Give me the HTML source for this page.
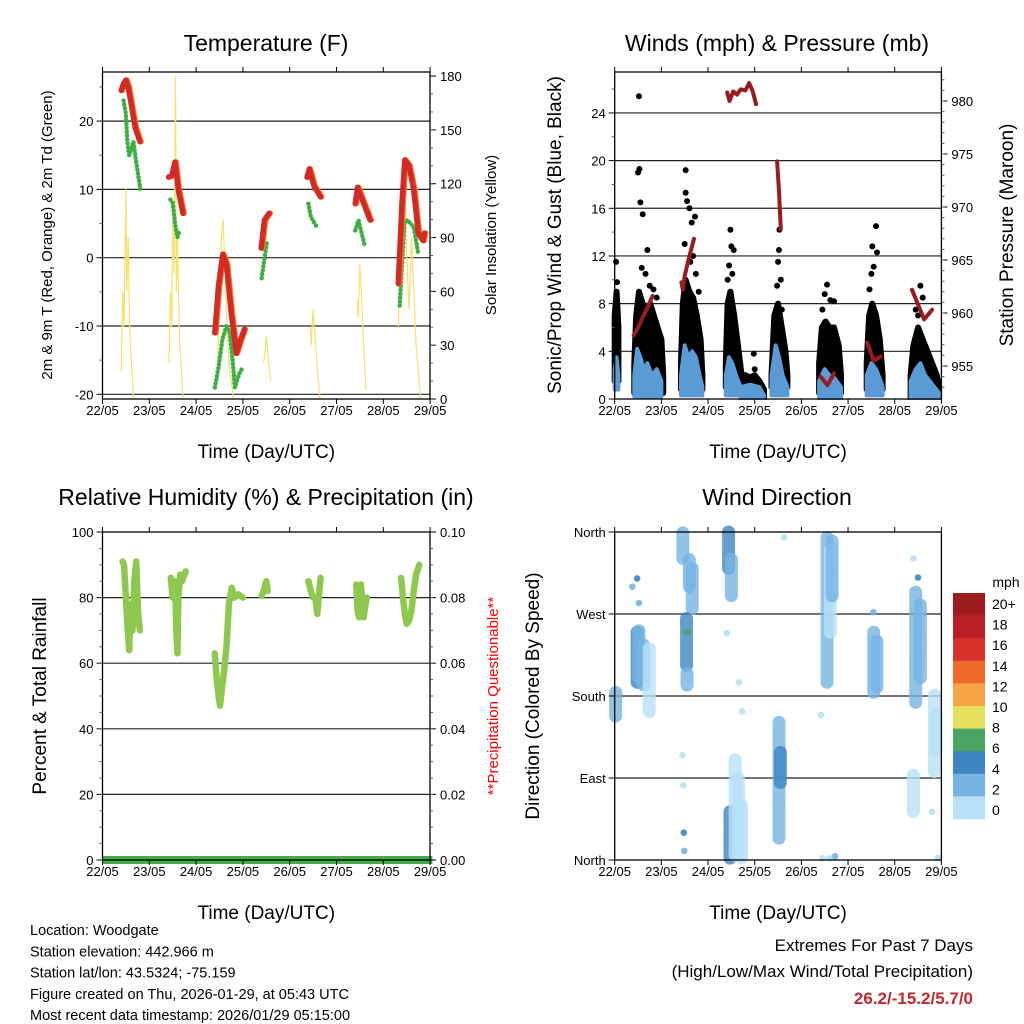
<!DOCTYPE html>
<html><head><meta charset="utf-8"><style>
html,body{margin:0;padding:0;background:#fff;}
svg{display:block;font-family:"Liberation Sans",Arial,sans-serif;}
</style></head><body>
<svg id="c" width="1024" height="1024" viewBox="0 0 1024 1024" xmlns="http://www.w3.org/2000/svg"></svg>
<script>
// ---------- DATA ----------
var dayLabels = ["22/05","23/05","24/05","25/05","26/05","27/05","28/05","29/05"];
// Temperature (red 2m/9m)
var red1T=[0.40,0.45,0.50,0.55,0.60,0.65,0.70,0.75,0.80], red1V=[24.5,25.5,26,25,23,21,19,18,17];
var red2T=[1.41,1.48,1.55,1.62,1.72], red2V=[11.8,12,14,10,6.5];
var red3T=[2.40,2.48,2.57,2.65,2.75,2.86,2.95,3.03], red3V=[-11,-4,0.5,-1,-8,-14,-12,-10.5];
var red4T=[3.39,3.46,3.56], red4V=[1.4,5.5,6.5];
var red5T=[4.37,4.42,4.52,4.66], red5V=[11.8,13,10.5,8.9];
var red6T=[5.40,5.45,5.58,5.72], red6V=[7.9,10.3,8,5.5];
var red7T=[6.32,6.40,6.46,6.55,6.65,6.75,6.85,6.88], red7V=[-3.8,8,14.3,13.5,10,3.5,2.5,3.6];
// Dewpoint (green)
var grn1T=[0.45,0.50,0.53,0.57,0.62,0.66,0.72,0.81], grn1V=[23,21,17,15,16,17,14,10];
var grn2T=[1.45,1.50,1.55,1.60,1.65], grn2V=[8.5,8,5,3,4];
var grn3T=[2.40,2.48,2.56,2.65,2.72,2.78,2.83,2.92,3.00], grn3V=[-19,-16,-12,-10,-11,-15,-19,-17,-16];
var grn4T=[3.40,3.52], grn4V=[-3,2.6];
var grn5T=[4.40,4.45,4.58], grn5V=[7.9,6,4.5];
var grn6T=[5.40,5.47,5.61], grn6V=[4,5.5,1.6];
var grn7T=[6.35,6.45,6.52,6.65,6.75], grn7V=[-7,5,5.5,4.5,0.5];
// Solar insolation (yellow)
var sol1T=[0.40,0.43,0.46,0.48,0.50,0.52,0.55,0.58,0.62,0.66], sol1V=[15,60,40,80,117,60,90,40,20,0];
var sol2T=[1.42,1.45,1.48,1.50,1.53,1.56,1.58,1.60,1.65,1.72], sol2V=[20,60,40,100,70,180,60,90,30,0];
var sol3T=[2.45,2.50,2.55,2.58,2.62,2.66,2.72,2.80], sol3V=[10,60,95,100,70,40,15,0];
var sol4T=[3.44,3.47,3.50,3.55,3.60], sol4V=[20,25,35,20,10];
var sol5T=[4.44,4.46,4.50,4.54,4.58,4.65], sol5V=[40,30,50,35,20,0];
var sol6T=[5.44,5.46,5.50,5.53,5.57,5.63], sol6V=[55,45,75,60,35,5];
var sol7T=[6.32,6.38,6.42,6.45,6.50,6.55,6.60,6.70,6.80], sol7V=[40,100,70,130,80,50,90,30,0];
// Gust envelopes (black)
var gustT=[[0.0,0.04,0.08],[0.42,0.46,0.52,0.6,0.68,0.76,0.84,0.92,1.0,1.04],[1.42,1.46,1.52,1.6,1.68,1.76,1.84,1.88],[2.38,2.42,2.48,2.56,2.64,2.72],[2.72,2.8,2.9,3.0,3.1,3.2],[3.36,3.42,3.5,3.58,3.66,3.7],[4.38,4.44,4.52,4.6,4.7,4.8,4.85],[5.4,5.45,5.52,5.6,5.68,5.74],[6.34,6.4,6.5,6.6,6.7,6.8,6.9,6.95]];
var gustHi=[[7,9,6],[3,7,9,8,7.5,8,7,6,5,2],[3,8,10,9,8.5,7,5,2],[3,8,9,7,4.5,2],[1.8,2,1.8,2,1.5,0.8],[2,7,8,6,4,2],[3,6,6.5,6,6,4.5,2],[3,7,8,7,5,2],[2,4.5,6,5,4,3,2,1]];
var gustLo=[1.5,0.5,0.8,1,0,1,0.5,0.8,0];
var gustOutT=[0.03,0.05,0.52,0.50,0.53,0.55,0.60,0.70,0.83,0.90,0.58,0.66,0.75,1.52,1.52,1.55,1.60,1.65,1.72,1.68,1.50,1.80,1.62,1.74,2.48,2.50,2.45,2.55,2.52,2.42,2.98,3.00,3.53,3.52,3.50,3.56,3.58,3.48,4.55,4.50,4.62,4.70,4.45,5.52,5.60,5.62,5.55,5.50,5.46,6.55,6.45,6.60,6.50];
var gustOutV=[11.5,9.8,25.4,19,19.3,16.5,15.5,12.5,9.2,8.5,11,10.5,9.5,19.2,17.3,16.6,16,14.8,15.3,12,13,9,11.5,10.5,14.2,12.8,11.2,12.5,10.5,10,3.8,2.5,14.2,12.5,11.5,10,7.5,9.5,9.6,8.8,8.3,8.2,7.5,12.8,14.5,12.3,11.1,10.5,9.2,9.5,7.5,8.5,7];
// Wind envelopes (blue)
var windT=[[0.0,0.04,0.08],[0.42,0.48,0.55,0.62,0.7,0.8,0.9,1.0],[1.42,1.5,1.58,1.66,1.74,1.82,1.88],[2.38,2.45,2.52,2.6,2.7],[2.7,2.9,3.1,3.2],[3.36,3.45,3.52,3.6,3.7],[4.38,4.5,4.6,4.7,4.85],[5.4,5.5,5.6,5.7,5.74],[6.34,6.45,6.55,6.65,6.75,6.85,6.95]];
var windHi=[[2.5,3.5,2],[2,4.2,3.5,2.5,3,2,2.5,1.5],[2,4.5,3.5,4,3.5,2,1],[2,3.5,3,2,1],[1,1.2,1,0.3],[2,4.5,3.5,2,1],[1.5,2.5,2,1.8,1],[2,3,2.5,1.5,1],[1.5,2.5,3,2,1.5,1,0.5]];
var windLo=[0.8,0.2,0.3,0.3,0,0.3,0,0.3,0];
// Pressure (maroon)
var pres1T=[0.41,0.5,0.6,0.7,0.81], pres1V=[957.9,958.6,959.6,960.5,961.6];
var pres2T=[1.43,1.46,1.5,1.58,1.70], pres2V=[962.9,962.2,963.5,965,967];
var pres3T=[2.41,2.46,2.54,2.62,2.7,2.8,2.88,2.95,3.03], pres3V=[980.8,980,980.9,980.6,981.1,981.0,981.7,981.0,979.7];
var pres4T=[3.48,3.52,3.56], pres4V=[974.3,971.5,967.9];
var pres5T=[4.41,4.56,4.70], pres5V=[954,953.2,954.3];
var pres6T=[5.41,5.55,5.70], pres6V=[957.2,955.5,955.9];
var pres7T=[6.37,6.63,6.80], pres7V=[962.2,959.4,960.3];
// Relative humidity
var rh1T=[0.43,0.46,0.5,0.54,0.57,0.6,0.64,0.68,0.72,0.76,0.8], rh1V=[91,90,80,70,64,78,70,85,91,75,70];
var rh2T=[1.46,1.5,1.55,1.58,1.6,1.62,1.66,1.7,1.75,1.78], rh2V=[86,80,85,70,63,80,87,85,87,88];
var rh3T=[2.4,2.44,2.48,2.51,2.55,2.6,2.65,2.7,2.76,2.82,2.9,3.0], rh3V=[63,55,50,47,52,58,65,78,83,80,81,80];
var rh4T=[3.4,3.44,3.5,3.53], rh4V=[80.5,82,85,82];
var rh5T=[4.4,4.45,4.5,4.55,4.59,4.62,4.66], rh5V=[85,82,80,80,75,80,86];
var rh6T=[5.42,5.45,5.48,5.52,5.55,5.58,5.62,5.65], rh6V=[84,76,74,84,80,74,78,80];
var rh7T=[6.38,6.42,6.46,6.5,6.55,6.6,6.65,6.7,6.77], rh7V=[86,80,75,72,73,76,82,87,90];
var precipV=[0,0];
// Wind direction streaks
var wdT  =[0.02,0.48,0.52,0.62,0.74,1.46,1.60,1.66,1.54,1.55,2.44,2.50,2.47,2.58,2.65,2.72,3.52,3.55,4.55,4.62,4.66,5.55,5.62,6.45,6.55,6.85,6.88,6.40];
var wdLo =[158,195,200,192,163,331,300,276,214,192,320,290,2,5,5,2,24,85,195,250,290,184,190,173,200,97,120,53];
var wdHi =[184,250,254,236,232,359,331,320,265,205,360,330,53,110,90,60,151,118,354,340,350,250,240,294,280,181,160,93];
var wdSpd=[3,4,3,3,1,2,3,2,4,2,4,3,4,1,1,1,3,5,2,1,3,3,2,3,2,1,1,1];
// Wind direction single dots
var dotT  =[0.48,0.52,0.38,1.45,1.47,1.48,1.49,1.56,2.40,2.66,2.73,3.63,4.42,4.45,4.72,5.54,6.40,6.50,6.80,6.92,6.95,4.60];
var dotDeg=[309,282,300,115,82,30,10,250,249,195,163,354,159,2,4,272,331,310,53,2,2,2];
var dotSpd=[5,3,2,1,1,4,3,7,1,1,1,1,1,1,2,3,1,5,1,1,1,1];
// colour bar
var cbLabels=["20+","18","16","14","12","10","8","6","4","2","0"];
var cbColors=["#9c1b1e","#b91f24","#d9302b","#ee6b2c","#f6a443","#e6df5c","#4aa462","#3e85c3","#75b4e2","#b6e1f6"];

// ---------- HELPERS ----------
var svg=document.getElementById('c');
var NS="http://www.w3.org/2000/svg";
function mk(tag,attrs,parent){var e=document.createElementNS(NS,tag);for(var k in attrs)e.setAttribute(k,attrs[k]);(parent||svg).appendChild(e);return e;}
function txt(s,x,y,size,anchor,rot,fill,weight){var e=mk('text',{x:x,y:y,'font-size':size,'text-anchor':anchor||'middle',fill:fill||'#000'});if(weight)e.setAttribute('font-weight',weight);if(rot)e.setAttribute('transform','rotate('+rot+' '+x+' '+y+')');e.textContent=s;return e;}
function pts(T,V,fx,fy){return T.map(function(t,i){return fx(t).toFixed(1)+','+fy(V[i]).toFixed(1);}).join(' ');}
function spdColor(s){if(s<2)return cbColors[9];if(s<4)return cbColors[8];if(s<6)return cbColors[7];if(s<8)return cbColors[6];return cbColors[5];}

function xT(t){return 102.5+t*46.8;}
function yT(v){return 257.7-v*6.83;}
function yS(v){return 399-v*1.794;}
function xW(t){return 614.7+t*46.67;}
function yWi(v){return 399-v*11.92;}
function yP(p){return 366-(p-955)*10.6;}
function yR(v){return 860-v*3.28;}
function yD(d){return 860-d*0.9111;}

function frame(x0,y0,x1,y1,xf,name){
  var b=mk('rect',{x:x0,y:y0,width:x1-x0,height:y1-y0,fill:'none',stroke:'#000','stroke-width':1.3});
  
  
  for(var d=0;d<=7;d++){
    var x=xf(d);
    var tk=mk('line',{x1:x,y1:y1,x2:x,y2:y1+5,stroke:'#000'});
    
    
    mk('line',{x1:x,y1:y0,x2:x,y2:y0-5,stroke:'#000'});
    var l=txt(dayLabels[d],x,y1+16,13);
    
    
  }
  var at=txt("Time (Day/UTC)",(x0+x1)/2,y1+59,19);
  
  
}
function leftTicks(vals,labels,fy,x0,minor,side){
  var dir=side==='right'?1:-1;
  vals.forEach(function(v,i){var y=fy(v);
    var t=mk('line',{x1:x0,y1:y,x2:x0+dir*6,y2:y,stroke:'#000'});
    
    
    var l=txt(labels[i],x0+dir*(side==='right'?10:9),y+5,13,side==='right'?'start':'end');
    
    });
  minor.forEach(function(v){var y=fy(v);mk('line',{x1:x0,y1:y,x2:x0+dir*3,y2:y,stroke:'#555'});});
}
function grid(vals,fy,x0,x1){vals.forEach(function(v){var g=mk('line',{x1:x0,y1:fy(v),x2:x1,y2:fy(v),stroke:'#222','stroke-width':1.2});
  
  });}
function range(a,b,s){var r=[];for(var v=a;v<=b+1e-9;v+=s)r.push(+v.toFixed(3));return r;}

// ---------- TITLES ----------
var t1=txt("Temperature (F)",266,51,23);
var t2=txt("Winds (mph) & Pressure (mb)",777,51,23);
var t3=txt("Relative Humidity (%) & Precipitation (in)",266,505,23);
var t4=txt("Wind Direction",777,505,23);

// ---------- PANEL 1: TEMPERATURE ----------
grid([20,10,0,-10,-20],yT,102.5,430);
[[sol1T,sol1V],[sol2T,sol2V],[sol3T,sol3V],[sol4T,sol4V],[sol5T,sol5V],[sol6T,sol6V],[sol7T,sol7V]].forEach(function(s){
  var p=mk('polyline',{points:pts(s[0],s[1],xT,yS),fill:'none',stroke:'#f6e16a','stroke-width':1.2});
  
  });
[[grn1T,grn1V],[grn2T,grn2V],[grn3T,grn3V],[grn4T,grn4V],[grn5T,grn5V],[grn6T,grn6V],[grn7T,grn7V]].forEach(function(s){
  var p=mk('polyline',{points:pts(s[0],s[1],xT,yT),fill:'none',stroke:'#3fae43','stroke-width':4.5,'stroke-dasharray':'0.1 3.8','stroke-linecap':'round'});
  
  });
[[red1T,red1V],[red2T,red2V],[red3T,red3V],[red4T,red4V],[red5T,red5V],[red6T,red6V],[red7T,red7V]].forEach(function(s){
  var o=mk('polyline',{points:pts(s[0],s[1],function(t){return xT(t)+1.2;},yT),fill:'none',stroke:'#f0802c','stroke-width':5.5,'stroke-linecap':'round','stroke-linejoin':'round'});
  
  
  var p=mk('polyline',{points:pts(s[0],s[1],xT,yT),fill:'none',stroke:'#d42a26','stroke-width':5.5,'stroke-linecap':'round','stroke-linejoin':'round'});
  
  });
frame(102.5,72,430,399,xT,'temperature');
leftTicks([-20,-10,0,10,20],["-20","-10","0","10","20"],yT,102.5,[-15,-5,5,15,25]);
leftTicks([0,30,60,90,120,150,180],["0","30","60","90","120","150","180"],yS,430,range(10,170,10),'right');
var a=txt("2m & 9m T (Red, Orange) & 2m Td (Green)",52,235,15,'middle',-90);
a=txt("Solar Insolation (Yellow)",496,235,15,'middle',-90);

// ---------- PANEL 2: WINDS ----------
grid([4,8,12,16,20,24],yWi,614.7,941.4);
gustT.forEach(function(T,i){
  var lo=T.slice().reverse().map(function(t){return xW(t).toFixed(1)+','+yWi(gustLo[i]).toFixed(1);}).join(' ');
  var p=mk('polygon',{points:pts(T,gustHi[i],xW,yWi)+' '+lo,fill:'#000',stroke:'#000','stroke-width':6,'stroke-linejoin':'round'});
  
  });
gustOutT.forEach(function(t,i){var c=mk('circle',{cx:xW(t),cy:yWi(gustOutV[i]),r:3,fill:'#000'});
  
  });
windT.forEach(function(T,i){
  var lo=T.slice().reverse().map(function(t){return xW(t).toFixed(1)+','+yWi(windLo[i]).toFixed(1);}).join(' ');
  var p=mk('polygon',{points:pts(T,windHi[i],xW,yWi)+' '+lo,fill:'#5b9bd5',stroke:'#5b9bd5','stroke-width':4,'stroke-linejoin':'round'});
  
  });
[[pres1T,pres1V],[pres2T,pres2V],[pres3T,pres3V],[pres4T,pres4V],[pres5T,pres5V],[pres6T,pres6V],[pres7T,pres7V]].forEach(function(s){
  var p=mk('polyline',{points:pts(s[0],s[1],xW,yP),fill:'none',stroke:'#9a1b1e','stroke-width':4,'stroke-linecap':'round','stroke-linejoin':'round'});
  
  });
mk('rect',{x:560,y:400,width:400,height:4,fill:'#fff'});
frame(614.7,72,941.4,399,xW,'winds');
leftTicks([0,4,8,12,16,20,24],["0","4","8","12","16","20","24"],yWi,614.7,[2,6,10,14,18,22,26]);
leftTicks([955,960,965,970,975,980],["955","960","965","970","975","980"],yP,941.4,range(953,982,1),'right');
a=txt("Sonic/Prop Wind & Gust (Blue, Black)",561,235,19,'middle',-90);
a=txt("Station Pressure (Maroon)",1013,235,19,'middle',-90);

// ---------- PANEL 3: HUMIDITY ----------
grid([20,40,60,80],yR,102.5,430);
[[rh1T,rh1V],[rh2T,rh2V],[rh3T,rh3V],[rh4T,rh4V],[rh5T,rh5V],[rh6T,rh6V],[rh7T,rh7V]].forEach(function(s){
  var p=mk('polyline',{points:pts(s[0],s[1],xT,yR),fill:'none',stroke:'#8fc84f','stroke-width':6.5,'stroke-linecap':'round','stroke-linejoin':'round'});
  
  });
var pr=mk('polyline',{points:pts([0,7.05],precipV,xT,yR),fill:'none',stroke:'#45ac49','stroke-width':8});


frame(102.5,532,430,860,xT,'humidity');
leftTicks([0,20,40,60,80,100],["0","20","40","60","80","100"],yR,102.5,range(5,95,5));
leftTicks([0,20,40,60,80,100],["0.00","0.02","0.04","0.06","0.08","0.10"],yR,430,range(5,95,5),'right');
a=txt("Percent & Total Rainfall",46,696,19,'middle',-90);
a=txt("**Precipitation Questionable**",498,696,15,'middle',-90,'#ff0000');

// ---------- PANEL 4: WIND DIRECTION ----------
grid([90,180,270],yD,614.7,941.4);
wdT.forEach(function(t,i){var l=mk('line',{x1:xW(t),y1:yD(wdLo[i]),x2:xW(t),y2:yD(wdHi[i]),stroke:spdColor(wdSpd[i]),'stroke-width':13,'stroke-linecap':'round','stroke-opacity':0.8,'stroke-dasharray':'7 3'});
  
  });
dotT.forEach(function(t,i){var c=mk('circle',{cx:xW(t),cy:yD(dotDeg[i]),r:3.3,fill:spdColor(dotSpd[i]),'fill-opacity':0.9});
  
  });
frame(614.7,532,941.4,860,xW,'wind-direction');
leftTicks([0,90,180,270,360],["North","East","South","West","North"],yD,614.7,[]);
a=txt("Direction (Colored By Speed)",539,696,19,'middle',-90);

// colour bar
a=txt("mph",1006,587,14);
var cb0=593,cbh=22.6;
cbColors.forEach(function(c,i){var r=mk('rect',{x:953,y:cb0+i*cbh,width:32,height:cbh+0.3,fill:c});
  
  });
cbLabels.forEach(function(s,i){var l=txt(s,992,609+i*20.6,14,'start');
  
  });

// ---------- FOOTER ----------
var info=["Location: Woodgate","Station elevation: 442.966 m","Station lat/lon: 43.5324; -75.159","Figure created on Thu, 2026-01-29, at 05:43 UTC","Most recent data timestamp: 2026/01/29 05:15:00"];
info.forEach(function(s,i){var l=txt(s,30,935+i*21.3,14.5,'start');
  
  });
a=txt("Extremes For Past 7 Days",973,951,17,'end');
a=txt("(High/Low/Max Wind/Total Precipitation)",973,977,17,'end');
a=txt("26.2/-15.2/5.7/0",973,1004,17,'end',0,'#c1272d','bold');
</script>
</body></html>
